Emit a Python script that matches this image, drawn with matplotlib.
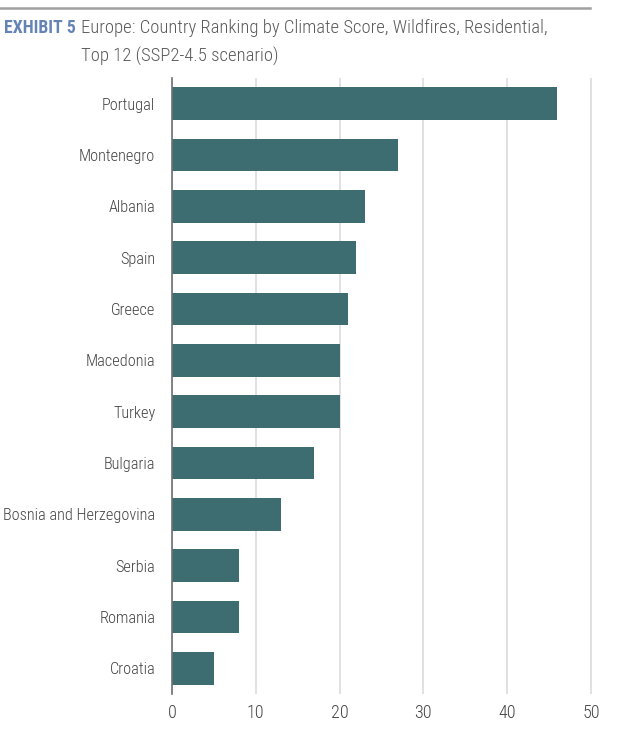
import matplotlib
matplotlib.use('Agg')
import matplotlib.pyplot as plt
from matplotlib import font_manager
from matplotlib.lines import Line2D

countries = ['Portugal', 'Montenegro', 'Albania', 'Spain', 'Greece', 'Macedonia',
             'Turkey', 'Bulgaria', 'Bosnia and Herzegovina', 'Serbia', 'Romania', 'Croatia']
scores = [46, 27, 23, 22, 21, 20, 20, 17, 13, 8, 8, 5]
xticks = [0, 10, 20, 30, 40, 50]

# pick a narrow font if there is one
installed = set(f.name for f in font_manager.fontManager.ttflist)
family = 'DejaVu Sans'
for name in ['Roboto Condensed', 'Barlow Semi Condensed', 'Archivo Narrow',
             'Liberation Sans Narrow', 'Roboto']:
  if name in installed:
    family = name
    break
plt.rcParams['font.family'] = [family, 'DejaVu Sans']
plt.rcParams['font.weight'] = 300

barColor = '#3e6d71'
textColor = '#444444'
blue = '#6584b6'

fig = plt.figure(figsize=(6.2, 7.38), dpi=100)
ax = fig.add_axes([172/620., 1-694/738., 427.4/620., 616/738.])

ypos = range(len(countries))
ax.barh(ypos, scores, height=0.64, color=barColor, zorder=3)
ax.set_ylim(len(countries)-0.5, -0.5)
ax.set_xlim(0, 51)

ax.set_yticks(list(ypos))
ax.set_yticklabels(countries, fontsize=11.7, color=textColor)
ax.set_xticks(xticks)
ax.set_xticklabels([str(t) for t in xticks], fontsize=13, color=textColor)
ax.tick_params(axis='y', length=0, pad=12)
ax.tick_params(axis='x', length=0, pad=7)

ax.grid(axis='x', color='#dcdcdc', linewidth=1.2, zorder=0)
for side in ['top', 'right', 'bottom']:
  ax.spines[side].set_visible(False)
ax.spines['left'].set_color('#707070')
ax.spines['left'].set_linewidth(1.2)
ax.spines['left'].set_zorder(4)

# header rule and title
fig.add_artist(Line2D([0, 590/620.], [1-8/738., 1-8/738.], color='#a0a0a0', linewidth=1.8))
fig.text(4/620., 1-33/738., 'EXHIBIT 5', fontsize=12.8, fontweight='bold', color=blue)
fig.text(81/620., 1-33/738., 'Europe: Country Ranking by Climate Score, Wildfires, Residential,',
         fontsize=13.4, color='#5a5a5a')
fig.text(81/620., 1-62/738., 'Top 12 (SSP2-4.5 scenario)', fontsize=13.4, color='#5a5a5a')

fig.savefig('out.png', dpi=100)
